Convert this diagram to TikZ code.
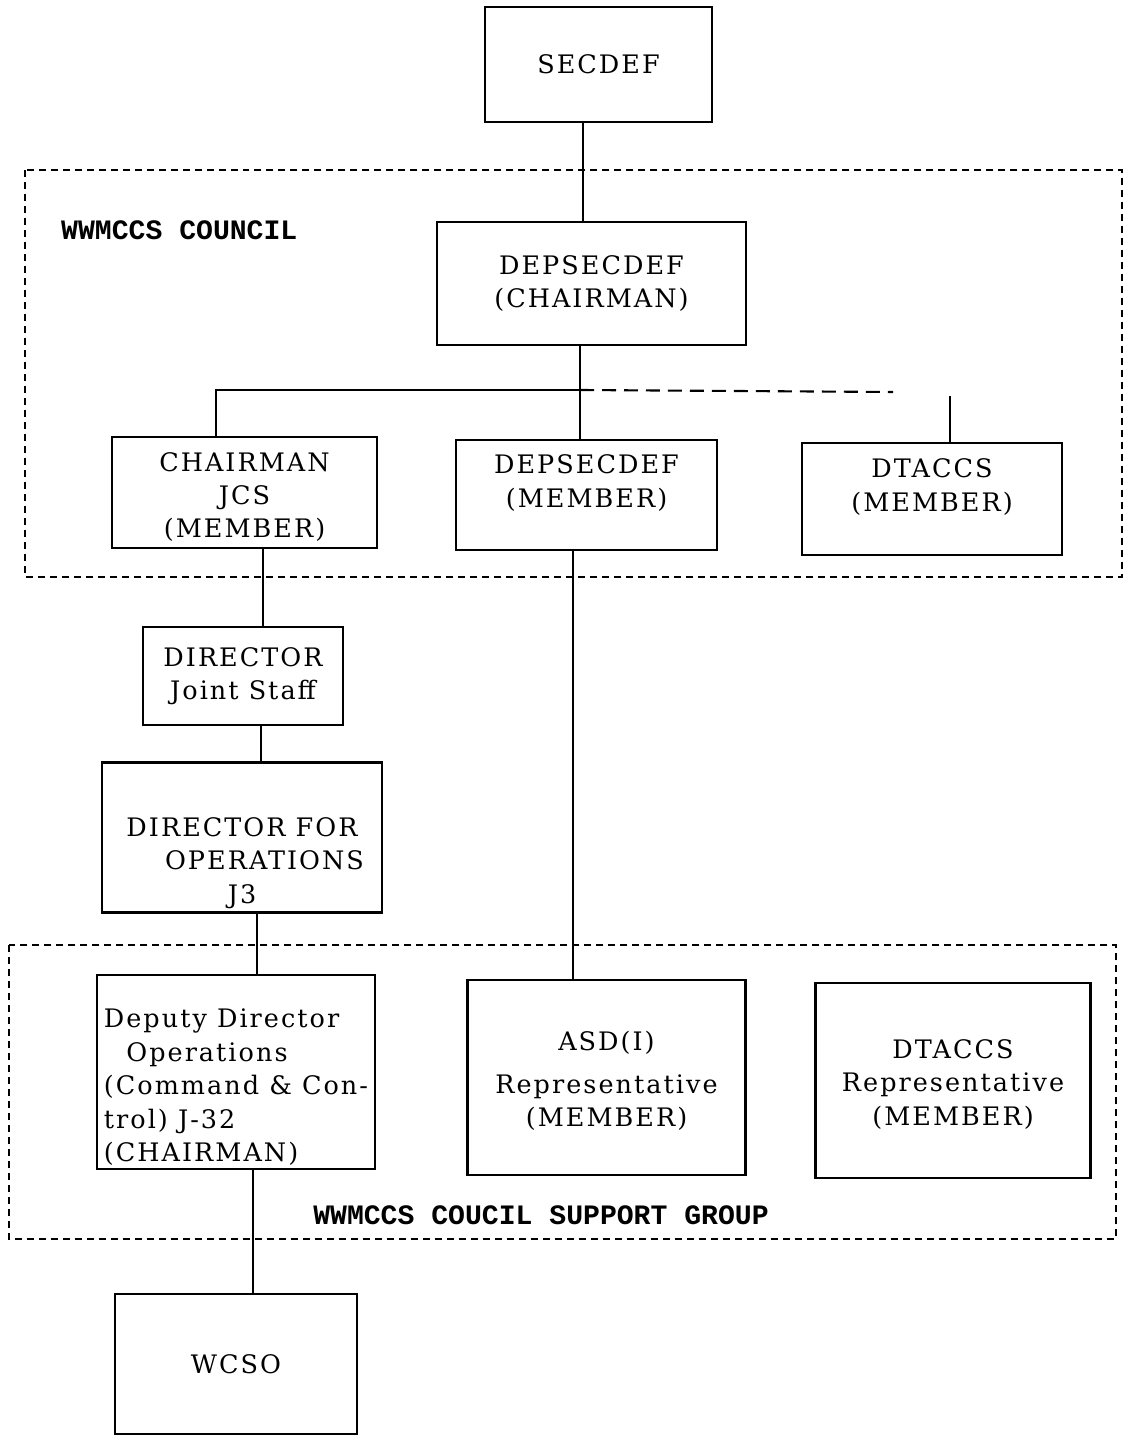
\documentclass[tikz,border=0pt]{standalone}
\usepackage{fontspec}
\newfontfamily\boxfont[LetterSpace=8]{DejaVu Serif}
\newfontfamily\groupfont{Liberation Mono}
\begin{document}
\begin{tikzpicture}
        [x=0.02cm, y=-0.02cm,
        unit/.style={draw, line width=1.6pt, inner sep=2pt, align=center, font=\boxfont\fontsize{14.5}{19}\selectfont},
        edge/.style={line width=1.2pt, black},
        busdash/.style={line width=1.2pt, black, dash pattern=on 0.28cm off 0.16cm},
        group/.style={line width=1.3pt, dash pattern=on 0.14cm off 0.1cm},
        grouplabel/.style={font=\groupfont\bfseries\fontsize{16}{18}\selectfont}]

        \useasboundingbox (0,0) rectangle (1125,1435);

        % Dashed frames for the council and its support group
        \draw[group] (25,170) rectangle (1122,577);
        \draw[group] (9,945) rectangle (1116,1239);

        % Labels for the frames
        \node[grouplabel, anchor=west] (council) at (55,230) {WWMCCS COUNCIL};
        \node[grouplabel] (support) at (541,1215) {WWMCCS COUCIL SUPPORT GROUP};

        \node[unit, minimum width=4.54cm, minimum height=2.3cm] (secdef) at (598.5,64.5) {SECDEF};
        \node[unit, minimum width=6.18cm, minimum height=2.46cm] (depchair) at (591.5,283.5) {DEPSECDEF\\(CHAIRMAN)};
        \node[unit, minimum width=5.3cm, minimum height=2.22cm] (jcs) at (244.5,492.5) {\mbox{}\\[-3pt]CHAIRMAN\\JCS\\(MEMBER)};
        \node[unit, minimum width=5.22cm, minimum height=2.2cm] (depmem) at (586.5,495) {DEPSECDEF\\(MEMBER)\\[-3pt]\mbox{}};
        \node[unit, minimum width=5.2cm, minimum height=2.24cm] (dtmem) at (932,499) {DTACCS\\(MEMBER)\\[-3pt]\mbox{}};
        \node[unit, minimum width=4cm, minimum height=1.96cm] (dirjs) at (243,676) {DIRECTOR\\Joint Staff};
        \node[unit, minimum width=5.6cm, minimum height=2.98cm] (dirops) at (242,837.5) {\mbox{}\\[21pt]DIRECTOR FOR\\\hspace*{0.9cm}OPERATIONS\\J3};
        \node[unit, align=left, minimum width=5.56cm, minimum height=3.88cm] (ddo) at (236,1072) {\mbox{}\\[9pt]Deputy Director\\\hspace*{0.45cm}Operations\\(Command \& Con-\\trol) J-32\\(CHAIRMAN)};
        \node[unit, minimum width=5.56cm, minimum height=3.9cm] (asd) at (606.5,1077.5) {\mbox{}\\[-4pt]ASD(I)\\[5pt]Representative\\(MEMBER)};
        \node[unit, minimum width=5.5cm, minimum height=3.9cm] (dtrep) at (953,1080.5) {\mbox{}\\[-4pt]DTACCS\\Representative\\(MEMBER)};
        \node[unit, minimum width=4.84cm, minimum height=2.8cm] (wcso) at (236,1364) {WCSO};

        % council bus
        \coordinate (bus) at (580,390);
        \coordinate (busend) at (893,392);
        \coordinate (dtdrop) at (950,396);

        % solid lines of authority
        \draw[edge] (secdef.south -| 583,0) -- (depchair.north -| 583,0);
        \draw[edge] (depchair.south -| bus) -- (depmem.north -| bus);
        \draw[edge] (jcs.north -| 216,0) |- (bus);
        \draw[busdash] (bus) -- (busend);
        \draw[edge] (dtdrop) -- (dtmem.north -| dtdrop);
        \draw[edge] (jcs.south -| 263,0) -- (dirjs.north -| 263,0);
        \draw[edge] (dirjs.south -| 261,0) -- (dirops.north -| 261,0);
        \draw[edge] (dirops.south -| 257,0) -- (ddo.north -| 257,0);
        \draw[edge] (ddo.south -| 253,0) -- (wcso.north -| 253,0);
        \draw[edge] (depmem.south -| 573,0) -- (asd.north -| 573,0);

\end{tikzpicture}
\end{document}
